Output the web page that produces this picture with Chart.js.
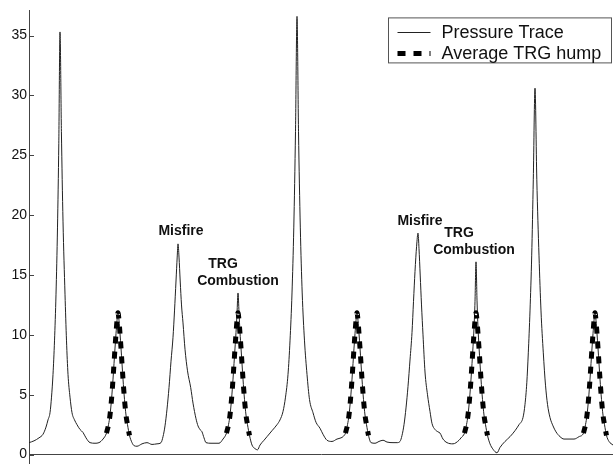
<!DOCTYPE html>
<html>
<head>
<meta charset="utf-8">
<script src="https://cdn.jsdelivr.net/npm/chart.js@4.4.1/dist/chart.umd.min.js"></script>
<style>
  body { margin: 0; background: #fff; }
</style>
</head>
<body>
<canvas id="grafica" width="613" height="474"></canvas>
<script>
// cylinder pressure over crank angle
const traceAngle = [
  0, 5, 10, 14, 17, 19, 21, 22.5, 24, 25.5, 27, 28.5, 29.8, 31, 32.4, 34, 36, 37.5, 39, 41, 43, 45.5, 48, 51, 54, 57, 61, 66, 70, 74,
  77.5, 79.5, 81, 82.5, 84, 85, 86, 87, 88, 89, 90, 91, 92, 93, 94, 95.5, 97, 98.5, 100.5, 103, 105, 108, 113, 118, 123, 128,
  132, 134, 136, 138, 140, 142, 144, 145.5, 147, 148.2, 149, 150, 151.2, 152.5, 154, 156, 158.5, 161.7, 164, 167, 169, 171, 173, 175, 177, 182, 190, 194,
  197.5, 199.5, 201, 202.5, 204, 205, 206, 207, 208, 209, 210, 211, 212, 213, 214, 215.5, 217, 218.5, 220.5, 223, 226, 228.5, 231, 235,
  238, 243, 248, 251, 254, 256.5, 259, 261, 263, 264.8, 266.5, 268, 269.5, 271.3, 273.2, 275.5, 278, 280.5, 284, 287, 291, 294, 298, 303, 308, 312, 314,
  316.5, 318.5, 320, 321.5, 323, 324, 325, 326, 327, 328, 329, 330, 331, 332, 333, 334.5, 336, 337.5, 339.5, 342, 346, 350, 354, 358, 364, 368, 371,
  373, 375, 377, 379, 381, 383, 384.5, 386, 387.6, 389, 390, 391.2, 392.5, 394, 396, 398.5, 401, 403, 406, 409, 411, 414, 418, 424, 430,
  432, 435.5, 437.5, 439, 440.5, 442, 443, 444, 445, 446, 447, 448, 449, 450, 451, 452, 453.5, 455, 456.5, 458.5, 461, 464, 468,
  471, 476, 481, 486, 490, 494, 496, 497.8, 499.3, 501, 502.7, 504.3, 506, 507.8, 510, 512, 514.3, 516.5, 518.5, 521, 524, 527, 531, 535, 540, 545, 550,
  554.5, 556.5, 558, 559.5, 561, 562, 563, 564, 565, 566, 567, 568, 569, 570, 571, 572.5, 574, 575.5, 577.5, 580, 584
];
const tracePressure = [
  1.0, 1.15, 1.4, 1.7, 2.3, 2.9, 3.5, 4.8, 6.7, 9.5, 13.4, 19, 26, 35.3, 27, 19.5, 13.4, 9.5, 6.7, 4.8, 3.5, 2.9, 2.5, 2.1, 1.85, 1.4, 1.0, 0.95, 1.0, 1.3,
  1.8, 2.5, 3.3, 4.6, 6.3, 7.6, 8.9, 10.1, 11.2, 12.0, 11.2, 10.1, 8.9, 7.6, 6.3, 4.6, 3.3, 2.5, 1.6, 1.0, 0.75, 0.7, 0.9, 1.0, 0.85, 0.9,
  1.0, 1.5, 2.4, 3.8, 5.6, 7.8, 9.8, 12, 14.5, 16.5, 17.6, 16.5, 14.5, 12.5, 11, 8.8, 7, 5.6, 4.3, 3.0, 2.4, 2.1, 1.9, 1.4, 1.0, 0.95, 0.95, 1.3,
  1.8, 2.5, 3.3, 4.6, 6.3, 7.6, 8.9, 10.2, 11.8, 13.5, 11.9, 10.2, 8.9, 7.6, 6.3, 4.6, 3.3, 2.5, 1.6, 0.8, 0.5, 0.4, 0.8, 1.2,
  1.5, 2.0, 2.5, 2.9, 3.6, 4.8, 6.7, 9.5, 13.5, 19, 27, 36.6, 27, 19, 13.5, 9.5, 6.7, 4.6, 3.5, 2.7, 2.2, 1.7, 1.2, 1.1, 1.3, 1.4, 1.5,
  1.8, 2.5, 3.3, 4.6, 6.3, 7.6, 8.9, 10.1, 11.2, 12.0, 11.2, 10.1, 8.9, 7.6, 6.3, 4.6, 3.3, 2.5, 1.6, 1.0, 0.95, 1.1, 1.2, 1.05, 1.0, 1.0, 1.1,
  1.6, 2.5, 3.9, 5.7, 7.9, 10.2, 12.8, 15.3, 17.4, 18.5, 17.2, 15, 12.5, 10, 6.9, 5.0, 3.6, 2.6, 2.1, 1.9, 1.8, 1.3, 1.0, 0.9, 1.2,
  1.4, 1.8, 2.5, 3.3, 4.6, 6.3, 7.6, 9.0, 10.6, 12.8, 16.1, 12.9, 10.6, 9.0, 7.6, 6.3, 4.6, 3.3, 2.5, 1.6, 0.9, 0.45, 0.15,
  0.6, 1.1, 1.5, 2.0, 2.5, 3.1, 4.2, 6.0, 8.5, 12, 16.6, 23, 30.6, 23, 16.6, 12, 8.5, 5.8, 4.2, 3.1, 2.4, 1.9, 1.5, 1.3, 1.3, 1.3, 1.5,
  1.8, 2.5, 3.3, 4.6, 6.3, 7.6, 8.9, 10.1, 11.2, 12.0, 11.2, 10.1, 8.9, 7.6, 6.3, 4.6, 3.3, 2.5, 1.6, 1.1, 0.8
];

// averaged TRG hump, laid over each TRG event
const humpCenters = [89, 209, 328, 447, 566];
const humpOffsets = [-11.5, -9.5, -8, -6.5, -5, -4, -3, -2, -1, 0, 1, 2, 3, 4, 5, 6.5, 8, 9.5, 11.5];
const humpPressure = [1.8, 2.5, 3.3, 4.6, 6.3, 7.6, 8.9, 10.1, 11.2, 11.85, 11.2, 10.1, 8.9, 7.6, 6.3, 4.6, 3.3, 2.5, 1.6];

const yTicks = [0, 5, 10, 15, 20, 25, 30, 35];

const notes = [
  { lines: ['Misfire'], x: 152, y: 18.74 },
  { lines: ['TRG', 'Combustion'], x: 209, y: 16.0 },
  { lines: ['Misfire'], x: 391, y: 19.6 },
  { lines: ['TRG', 'Combustion'], x: 445, y: 18.6 }
];

const trazo = traceAngle.map((a, i) => ({ x: a, y: tracePressure[i] }));
const joroba = [];
humpCenters.forEach(c => {
  humpOffsets.forEach((d, i) => joroba.push({ x: c + d, y: humpPressure[i] }));
  joroba.push({ x: c + 13, y: null });
});

const ticksAdentro = {
  id: 'ticksAdentro',
  afterDraw(chart) {
    const y = chart.scales.y;
    const left = chart.chartArea.left;
    const ctx = chart.ctx;
    ctx.save();
    ctx.strokeStyle = '#444';
    ctx.lineWidth = 1;
    yTicks.forEach(v => {
      const py = Math.round(y.getPixelForValue(v)) + 0.5;
      ctx.beginPath();
      ctx.moveTo(left, py);
      ctx.lineTo(left + 5, py);
      ctx.stroke();
    });
    ctx.restore();
  }
};

const notas = {
  id: 'notas',
  afterDraw(chart) {
    const ctx = chart.ctx;
    const xs = chart.scales.x, ys = chart.scales.y;
    ctx.save();
    ctx.font = 'bold 14px "Liberation Sans", Arial, sans-serif';
    ctx.fillStyle = '#111';
    ctx.textAlign = 'center';
    ctx.textBaseline = 'alphabetic';
    notes.forEach(n => {
      const px = xs.getPixelForValue(n.x);
      const py = ys.getPixelForValue(n.y) + 5;
      n.lines.forEach((t, i) => {
        const dx = (n.lines.length > 1 && i === 0) ? -15 : 0;
        ctx.fillText(t, px + dx, py + i * 17);
      });
    });
    ctx.restore();
  }
};

const leyenda = {
  id: 'leyenda',
  afterDraw(chart) {
    const ctx = chart.ctx;
    const area = chart.chartArea;
    const w = 223, h = 45;
    const x0 = area.right - w - 1.5, y0 = area.top + 7.5;
    ctx.save();
    ctx.fillStyle = '#fff';
    ctx.fillRect(x0, y0, w, h);
    ctx.strokeStyle = '#555';
    ctx.lineWidth = 1;
    ctx.strokeRect(x0, y0, w, h);
    ctx.font = '18px "Liberation Sans", Arial, sans-serif';
    ctx.textBaseline = 'middle';
    ctx.fillStyle = '#111';
    chart.data.datasets.forEach((ds, i) => {
      const cy = y0 + 14 + i * 21;
      ctx.beginPath();
      ctx.strokeStyle = ds.borderColor;
      ctx.lineWidth = ds.borderWidth;
      ctx.setLineDash(ds.borderDash ? [8, 8] : []);
      ctx.moveTo(x0 + 9, Math.round(cy) + 0.5);
      ctx.lineTo(x0 + 42, Math.round(cy) + 0.5);
      ctx.stroke();
      ctx.setLineDash([]);
      ctx.fillText(ds.label, x0 + 53, cy + 1);
    });
    ctx.restore();
  }
};

new Chart(document.getElementById('grafica').getContext('2d'), {
  type: 'line',
  data: {
    datasets: [
      {
        label: 'Pressure Trace',
        data: trazo,
        borderColor: '#222',
        borderWidth: 1,
        pointRadius: 0,
        cubicInterpolationMode: 'monotone',
        order: 2
      },
      {
        label: 'Average TRG hump',
        data: joroba,
        borderColor: '#000',
        borderWidth: 5,
        borderDash: [7, 8],
        borderCapStyle: 'butt',
        pointRadius: 0,
        spanGaps: false,
        cubicInterpolationMode: 'monotone',
        order: 1
      }
    ]
  },
  options: {
    responsive: false,
    animation: false,
    events: [],
    layout: { padding: { top: 6, right: 0, bottom: 0, left: 0 } },
    plugins: {
      legend: { display: false },
      tooltip: { enabled: false }
    },
    scales: {
      x: {
        type: 'linear',
        display: false,
        min: 0,
        max: 584
      },
      y: {
        min: -0.75,
        max: 37.1,
        afterFit(scale) { scale.width = 29; },
        afterBuildTicks(scale) { scale.ticks = yTicks.map(v => ({ value: v })); },
        border: { display: true, color: '#444', width: 1 },
        grid: {
          drawTicks: false,
          color: c => (c.tick && c.tick.value === 0 ? '#444' : 'rgba(0,0,0,0)')
        },
        ticks: {
          padding: 2,
          color: '#111',
          font: { family: '"Liberation Sans", Arial, sans-serif', size: 14 }
        }
      }
    }
  },
  plugins: [ticksAdentro, notas, leyenda]
});
</script>
</body>
</html>
